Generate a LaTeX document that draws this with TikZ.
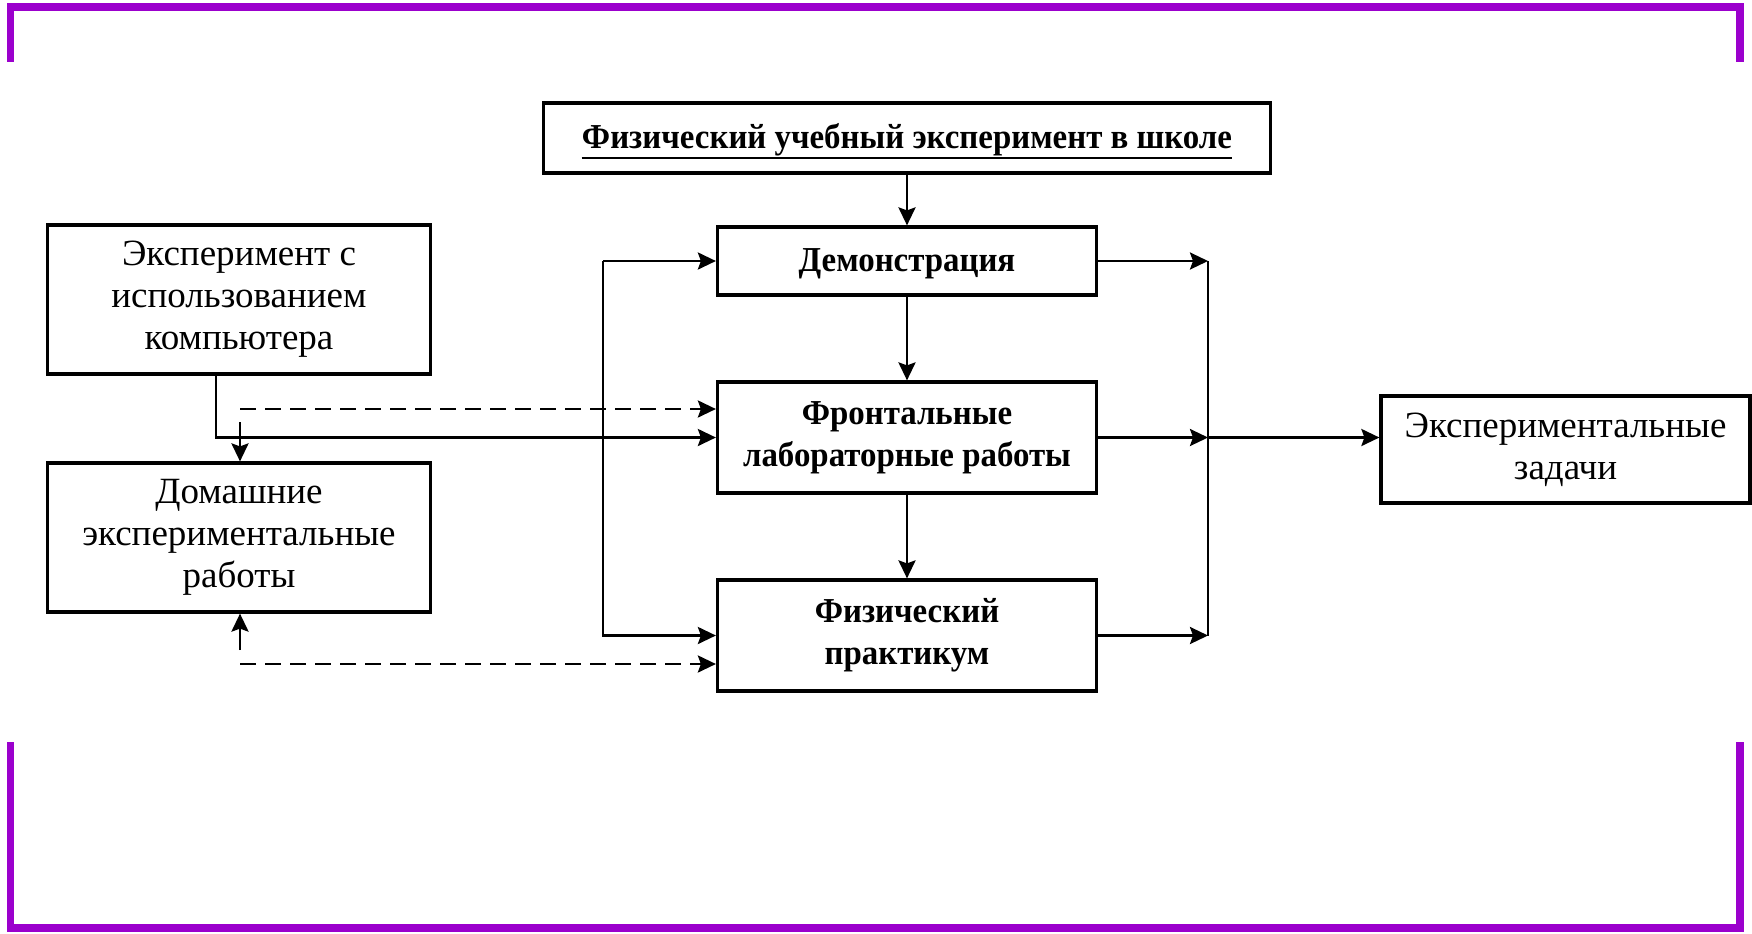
\documentclass[tikz,border=0pt]{standalone}
\usepackage{fontspec}
\setmainfont{Liberation Serif}
\newfontfamily\bcond[FakeStretch=0.94]{Liberation Serif}
\usetikzlibrary{arrows.meta}
\definecolor{framepurple}{RGB}{155,0,205}
\begin{document}
\begin{tikzpicture}[x=0.5pt,y=-0.5pt,
  box/.style={draw, line width=1.6pt, rectangle, inner sep=0pt, align=center, font=\fontsize{18.5}{21}\selectfont},
  boldbox/.style={box, font=\bcond\fontsize{17.5}{21}\selectfont\bfseries},
  arr/.style={line width=1.35pt, -{Stealth[length=9pt,width=8.5pt,inset=1.5pt]}},
  conn/.style={line width=1.35pt},
  dashline/.style={arr, dash pattern=on 8pt off 4.5pt}
]
\useasboundingbox (0,0) rectangle (1752,933);
% purple frame
\fill[framepurple] (7,3) rectangle (1744,11);
\fill[framepurple] (7,3) rectangle (14,62);
\fill[framepurple] (1736,3) rectangle (1744,62);
\fill[framepurple] (7,742) rectangle (14,932);
\fill[framepurple] (1736,742) rectangle (1744,932);
\fill[framepurple] (7,924) rectangle (1744,932);

% nodes
\node[box, minimum width=363.5pt, minimum height=35pt] (title) at (907,138) {};
\node[font=\bcond\fontsize{17.5}{21}\selectfont\bfseries, inner sep=0pt, anchor=base] (titletext) at (907,148) {Физический учебный эксперимент в школе};
\draw[line width=1.2pt] ([yshift=-5pt]titletext.base west) -- ([yshift=-5pt]titletext.base east);

\node[boldbox, minimum width=189.5pt, minimum height=34pt, text depth=1pt] (demo) at (907,261) {Демонстрация};
\node[boldbox, minimum width=189.5pt, minimum height=55.5pt] (front) at (907,437.5) {Фронтальные\\лабораторные работы};
\node[boldbox, minimum width=189.5pt, minimum height=55.5pt] (phys) at (907,635.5) {Физический\\практикум};

\node[box, minimum width=191.5pt, minimum height=74.5pt] (comp) at (239,299.5) {Эксперимент с\\использованием\\компьютера};
\node[box, minimum width=191.5pt, minimum height=74.5pt] (home) at (239,537.5) {Домашние\\экспериментальные\\работы};
\node[box, minimum width=184.5pt, minimum height=53.5pt] (tasks) at (1565.5,449.5) {Экспериментальные\\задачи};

% helper coordinates
\coordinate (c1) at (216,437.5);
\coordinate (c2) at (240,422);
\coordinate (d1) at (240,409);
\coordinate (c3) at (240,650);
\coordinate (d2) at (240,664);
\coordinate (vx) at (603,0);
\coordinate (rx) at (1208,0);

% connectors
\draw[arr] (title.south) -- (demo.north);
\draw[arr] (demo.south) -- (front.north);
\draw[arr] (front.south) -- (phys.north);

\draw[arr] (comp.south -| c1) -- (c1) -- (front.west);
\draw[arr] (c2) -- (c2 |- home.north);
\draw[dashline] (d1) -- (d1 -| front.west);
\draw[arr] (c3) -- (c3 |- home.south);
\draw[dashline] (d2) -- (d2 -| phys.west);

\draw[arr] (demo.west -| vx) -- (demo.west);
\draw[arr] (demo.west -| vx) -- (phys.west -| vx) -- (phys.west);

\draw[arr] (demo.east) -- (demo.east -| rx);
\draw[arr] (front.east) -- (front.east -| rx);
\draw[arr] (phys.east) -- (phys.east -| rx);
\draw[conn] (demo.east -| rx) -- (phys.east -| rx);
\draw[arr] (front.east -| rx) -- (front.east -| tasks.west);
\end{tikzpicture}
\end{document}
